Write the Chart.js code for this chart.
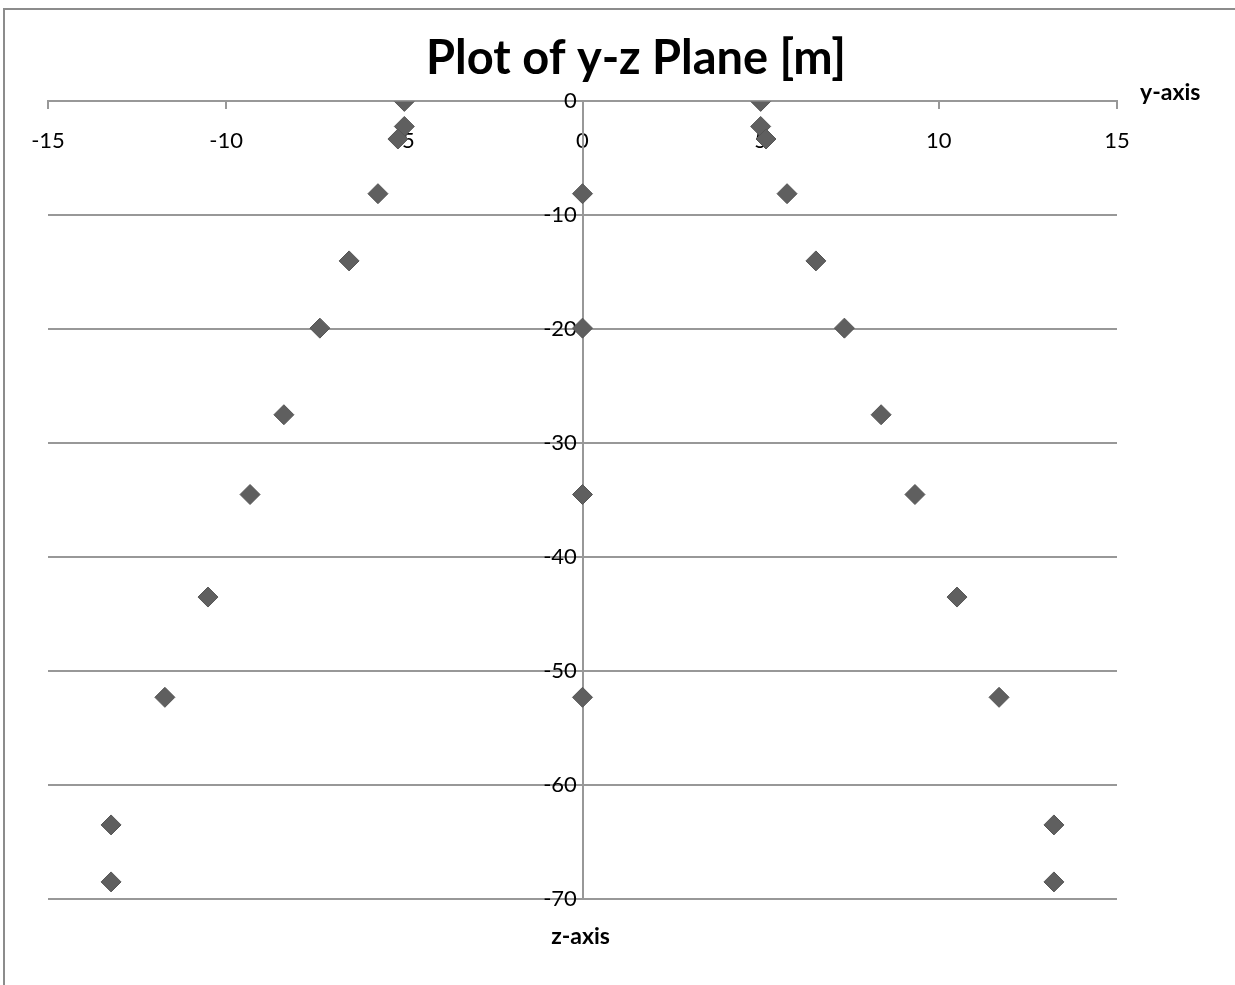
<!DOCTYPE html>
<html>
<head>
<meta charset="utf-8">
<script src="https://cdn.jsdelivr.net/npm/chart.js@4/dist/chart.umd.min.js"></script>
<style>
  html, body { margin: 0; padding: 0; background: #fff; overflow: hidden; }
  #frame { position: absolute; left: 3px; top: 8px; width: 1400px; height: 1200px;
           border-left: 2px solid #8c8c8c; border-top: 2px solid #8c8c8c; box-sizing: border-box; }
  #wrap { position: absolute; left: 0; top: 0; width: 1235px; height: 985px; }
</style>
</head>
<body>
<div id="frame"></div>
<div id="wrap"><canvas id="c" width="1235" height="985"></canvas></div>
<script>
// Cable / mooring geometry in the y-z plane, metres
const sideZ  = [0, -2.2, -3.3, -8.1, -14.0, -19.9, -27.5, -34.5, -43.5, -52.3, -63.5, -68.5];
const leftY  = [-5.0, -5.0, -5.18, -5.74, -6.55, -7.37, -8.38, -9.33, -10.51, -11.72, -13.23, -13.23];
const rightY = [5.0, 5.0, 5.15, 5.74, 6.55, 7.35, 8.38, 9.33, 10.51, 11.69, 13.23, 13.23];
const centreZ = [-8.1, -19.9, -34.5, -52.3];
const centreY = [0, 0, 0, 0];

const yAxisTicks = [-15, -10, -5, 0, 5, 10, 15];
const zAxisTicks = [-70, -60, -50, -40, -30, -20, -10, 0];

const toPoints = (ys, zs) => ys.map((v, i) => ({ x: v, y: zs[i] }));
const allPoints = toPoints(leftY, sideZ)
  .concat(toPoints(centreY, centreZ))
  .concat(toPoints(rightY, sideZ));

const FONT = 'Lato, "Open Sans", sans-serif';
const GRID = '#989898';

// Axis names sit beside the crossing axes rather than in the usual title slot
const axisNames = {
  id: 'axisNames',
  afterDraw(chart) {
    const { ctx, scales: { x, y } } = chart;
    ctx.save();
    ctx.font = 'bold 23px ' + FONT;
    ctx.fillStyle = '#000';
    ctx.textBaseline = 'middle';
    ctx.textAlign = 'left';
    ctx.fillText('y-axis', x.getPixelForValue(15) + 23, y.getPixelForValue(0) - 9);
    ctx.textAlign = 'center';
    ctx.fillText('z-axis', x.getPixelForValue(0) - 2, y.getPixelForValue(-70) + 38);
    ctx.restore();
  }
};

new Chart(document.getElementById('c'), {
  type: 'scatter',
  data: {
    datasets: [{
      data: allPoints,
      pointStyle: 'rectRot',
      pointRadius: 10,
      pointHoverRadius: 10,
      pointBackgroundColor: '#5f5f5f',
      pointBorderColor: '#555555',
      pointBorderWidth: 1,
      showLine: false
    }]
  },
  options: {
    responsive: false,
    animation: false,
    events: [],
    layout: { padding: { left: 48, right: 11, top: 9, bottom: 86 } },
    plugins: {
      legend: { display: false },
      tooltip: { enabled: false },
      title: {
        display: true,
        text: 'Plot of y-z Plane [m]',
        color: '#000',
        font: { family: FONT, size: 47, weight: 'bold', lineHeight: 1.2 },
        padding: { top: 22, bottom: 14 }
      }
    },
    scales: {
      x: {
        type: 'linear',
        position: { y: 0 },
        min: -15, max: 15,
        afterBuildTicks: s => { s.ticks = yAxisTicks.map(v => ({ value: v })); },
        afterFit: s => { s.height = 0; },
        grid: { drawOnChartArea: false, drawTicks: true, tickLength: 7, color: GRID, lineWidth: 2 },
        border: { color: GRID, width: 2 },
        ticks: { color: '#000', font: { family: FONT, size: 22 }, padding: 19 }
      },
      y: {
        type: 'linear',
        position: { x: 0 },
        min: -70, max: 0,
        afterBuildTicks: s => { s.ticks = zAxisTicks.map(v => ({ value: v })); },
        afterFit: s => { s.width = 0; },
        grid: { drawTicks: true, tickLength: 6, color: GRID, lineWidth: 2 },
        border: { color: GRID, width: 2 },
        ticks: { color: '#000', font: { family: FONT, size: 22 }, callback: v => v + ' ' }
      },
      // empty margin on the right that holds the "y-axis" name
      margin: {
        type: 'linear',
        axis: 'y',
        position: 'right',
        afterFit: s => { s.width = 107; },
        grid: { display: false },
        border: { display: false },
        ticks: { display: false }
      }
    }
  },
  plugins: [axisNames]
});
</script>
</body>
</html>
